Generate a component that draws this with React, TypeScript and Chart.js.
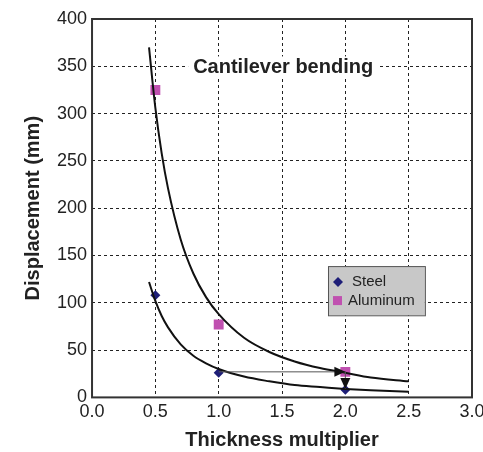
import React, { useEffect, useRef } from "react";
import { Chart, registerables } from "chart.js";

Chart.register(...registerables);

const steelX = [0.5, 1.0, 2.0];
const steelY = [108, 26, 8];
const aluminumX = [0.5, 1.0, 2.0];
const aluminumY = [325, 77, 27];

const fitX = [0.45, 0.5, 0.55, 0.6, 0.7, 0.8, 0.9, 1.0, 1.2, 1.4, 1.6, 1.8, 2.0, 2.2, 2.5];
const aluminumFitY = [370, 306, 258, 221, 167, 131, 106, 88, 63, 48, 38, 31, 26, 21, 17];
const steelFitY = [122, 102, 86, 74, 56, 44, 36, 30, 22, 17, 13, 11, 9, 7.5, 6];

const arrowFrom = [[1.0, 27], [2.0, 27]];
const arrowTo = [[2.0, 27], [2.0, 9]];

const xTicks = ["0.0", "0.5", "1.0", "1.5", "2.0", "2.5", "3.0"];
const chartTitle = "Cantilever bending";
const seriesNames = ["Steel", "Aluminum"];

const FONT = "'Liberation Sans', Arial, sans-serif";
const STEEL_COLOR = "#1e1e78";
const ALU_COLOR = "#c050b0";

const overlayPlugin = {
  id: "overlay",
  afterDatasetsDraw(chart: any) {
    const { ctx, scales } = chart;
    const xs = scales.x, ys = scales.y;
    ctx.save();
    for (let i = 0; i < arrowFrom.length; i++) {
      const x1 = xs.getPixelForValue(arrowFrom[i][0]);
      const y1 = ys.getPixelForValue(arrowFrom[i][1]);
      const x2 = xs.getPixelForValue(arrowTo[i][0]);
      const y2 = ys.getPixelForValue(arrowTo[i][1]);
      ctx.strokeStyle = "#555";
      ctx.lineWidth = 1;
      ctx.beginPath();
      ctx.moveTo(x1, y1);
      ctx.lineTo(x2, y2);
      ctx.stroke();
      const ang = Math.atan2(y2 - y1, x2 - x1);
      const L = 11, W = 5;
      ctx.fillStyle = "#111";
      ctx.beginPath();
      ctx.moveTo(x2, y2);
      ctx.lineTo(x2 - L * Math.cos(ang) + W * Math.sin(ang), y2 - L * Math.sin(ang) - W * Math.cos(ang));
      ctx.lineTo(x2 - L * Math.cos(ang) - W * Math.sin(ang), y2 - L * Math.sin(ang) + W * Math.cos(ang));
      ctx.closePath();
      ctx.fill();
    }
    ctx.restore();
  },
  afterDraw(chart: any) {
    const { ctx, chartArea: a } = chart;
    const w = a.right - a.left, h = a.bottom - a.top;
    ctx.save();
    ctx.strokeStyle = "#333";
    ctx.lineWidth = 2;
    ctx.strokeRect(a.left, a.top, w, h);
    ctx.font = `bold 20px ${FONT}`;
    ctx.textAlign = "center";
    ctx.textBaseline = "middle";
    const tx = a.left + 0.503 * w, ty = a.top + 0.128 * h;
    const tw = ctx.measureText(chartTitle).width;
    ctx.fillStyle = "#fff";
    ctx.fillRect(tx - tw / 2 - 5, ty - 11, tw + 10, 22);
    ctx.fillStyle = "#222";
    ctx.fillText(chartTitle, tx, ty);
    const lx = a.left + 0.621 * w, rx = a.left + 0.876 * w;
    const ly = a.top + 0.653 * h, by = a.top + 0.783 * h;
    ctx.fillStyle = "#c8c8c8";
    ctx.fillRect(lx, ly, rx - lx, by - ly);
    ctx.strokeStyle = "#555";
    ctx.lineWidth = 1;
    ctx.strokeRect(lx + 0.5, ly + 0.5, rx - lx, by - ly);
    ctx.font = `15px ${FONT}`;
    ctx.textAlign = "left";
    const r1 = ly + 16, r2 = ly + 35;
    ctx.fillStyle = STEEL_COLOR;
    ctx.beginPath();
    ctx.moveTo(lx + 10, r1 - 5);
    ctx.lineTo(lx + 15, r1);
    ctx.lineTo(lx + 10, r1 + 5);
    ctx.lineTo(lx + 5, r1);
    ctx.closePath();
    ctx.fill();
    ctx.fillStyle = ALU_COLOR;
    ctx.fillRect(lx + 5, r2 - 5, 9, 9);
    ctx.fillStyle = "#222";
    ctx.fillText(seriesNames[0], lx + 24, r1);
    ctx.fillText(seriesNames[1], lx + 20, r2);
    ctx.restore();
  },
};

export default function App() {
  const ref = useRef<HTMLCanvasElement>(null);
  useEffect(() => {
    if (!ref.current) return;
    const chart = new Chart(ref.current, {
      type: "scatter",
      data: {
        datasets: [
          {
            type: "line",
            label: "Aluminum fit",
            data: fitX.map((x, i) => ({ x, y: aluminumFitY[i] })),
            borderColor: "#111",
            borderWidth: 2,
            pointRadius: 0,
            cubicInterpolationMode: "monotone",
            fill: false,
          } as any,
          {
            type: "line",
            label: "Steel fit",
            data: fitX.map((x, i) => ({ x, y: steelFitY[i] })),
            borderColor: "#111",
            borderWidth: 2,
            pointRadius: 0,
            cubicInterpolationMode: "monotone",
            fill: false,
          } as any,
          {
            label: seriesNames[0],
            data: steelX.map((x, i) => ({ x, y: steelY[i] })),
            pointStyle: "rectRot",
            pointRadius: 5,
            backgroundColor: STEEL_COLOR,
            borderColor: STEEL_COLOR,
            borderWidth: 0,
          },
          {
            label: seriesNames[1],
            data: aluminumX.map((x, i) => ({ x, y: aluminumY[i] })),
            pointStyle: "rect",
            pointRadius: 7,
            backgroundColor: ALU_COLOR,
            borderColor: ALU_COLOR,
            borderWidth: 0,
          },
        ],
      },
      options: {
        animation: false,
        responsive: false,
        maintainAspectRatio: false,
        layout: { padding: { left: 21, top: 19, right: 28, bottom: 0 } },
        plugins: { legend: { display: false }, tooltip: { enabled: false } },
        scales: {
          x: {
            type: "linear",
            min: 0,
            max: 3,
            ticks: {
              stepSize: 0.5,
              color: "#222",
              font: { family: FONT, size: 18 },
              padding: 4,
              callback: (v: any) => xTicks[Math.round(Number(v) * 2)] ?? "",
            },
            grid: { color: "#222", lineWidth: 1, drawTicks: false },
            border: { display: false, dash: [3, 3] },
            title: {
              display: true,
              text: "Thickness multiplier",
              color: "#222",
              font: { family: FONT, size: 20, weight: "bold" },
              padding: { top: 1, bottom: 0 },
            },
          },
          y: {
            min: 0,
            max: 400,
            ticks: {
              stepSize: 50,
              color: "#222",
              font: { family: FONT, size: 18 },
              padding: 5,
            },
            grid: { color: "#222", lineWidth: 1, drawTicks: false },
            border: { display: false, dash: [3, 3] },
            title: {
              display: true,
              text: "Displacement (mm)",
              color: "#222",
              font: { family: FONT, size: 20, weight: "bold" },
              padding: { top: 0, bottom: 7 },
            },
          },
        },
      },
      plugins: [overlayPlugin],
    });
    return () => chart.destroy();
  }, []);
  return (
    <div style={{ position: "fixed", left: 0, top: 0, width: 500, height: 452, background: "#fff" }}>
      <canvas ref={ref} width={500} height={452} style={{ width: 500, height: 452 }} />
    </div>
  );
}
